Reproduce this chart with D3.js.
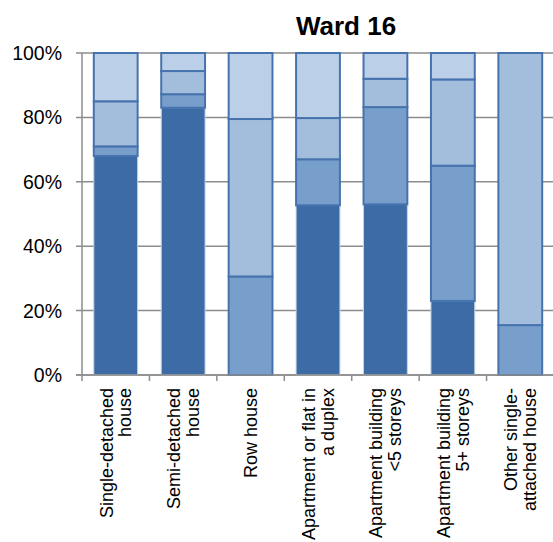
<!DOCTYPE html>
<html>
<head>
<meta charset="utf-8">
<script src="https://cdn.jsdelivr.net/npm/d3@7"></script>
<style>
  body { margin: 0; background: #fff; }
  svg { display: block; font-family: "Liberation Sans", Arial, sans-serif; }
</style>
</head>
<body>
<svg id="chart" width="553" height="542"></svg>
<script>
// chart data
var categories = [
  ["Single-detached", "house"],
  ["Semi-detached", "house"],
  ["Row house"],
  ["Apartment or flat in", "a duplex"],
  ["Apartment building", "<5 storeys"],
  ["Apartment building", "5+ storeys"],
  ["Other single-", "attached house"]
];
var series1 = [68, 83, 0, 52.7, 53, 23, 0];
var series2 = [3, 4.2, 30.6, 14.3, 30.2, 42, 15.5];
var series3 = [14, 7.2, 48.9, 12.8, 8.8, 26.8, 84.5];
var series4 = [15, 5.6, 20.5, 20.2, 8, 8.2, 0];
var yTicks = [0, 20, 40, 60, 80, 100];
var title = "Ward 16";

var fills = ["#3d6ba5", "#789fcc", "#a3bddc", "#bccfe8"];
var strokes = ["#c4d3e8", "#4673ad", "#4673ad", "#4673ad"];

var svg = d3.select("#chart");
var margin = { left: 82, right: -1, top: 53, bottom: 167 };
var W = 553, H = 542;

var x = d3.scaleBand()
  .domain(d3.range(categories.length))
  .range([margin.left, W - margin.right])
  .paddingInner(0.35)
  .paddingOuter(0.175);

var y = d3.scaleLinear()
  .domain([0, 100])
  .range([H - margin.bottom, margin.top]);

// gridlines
svg.append("g")
  .selectAll("line")
  .data(yTicks)
  .enter().append("line")
  .attr("x1", margin.left - 6)
  .attr("x2", W)
  .attr("y1", function (d) { return y(d); })
  .attr("y2", function (d) { return y(d); })
  .attr("stroke", "#8c8c8c")
  .attr("stroke-width", 1.5);

// y axis line
svg.append("line")
  .attr("x1", margin.left).attr("x2", margin.left)
  .attr("y1", y(0)).attr("y2", y(100))
  .attr("stroke", "#8c8c8c")
  .attr("stroke-width", 1.5);

// y labels
svg.append("g")
  .selectAll("text")
  .data(yTicks)
  .enter().append("text")
  .attr("x", 62)
  .attr("y", function (d) { return y(d); })
  .attr("dy", "0.36em")
  .attr("text-anchor", "end")
  .attr("font-size", 19.5)
  .attr("fill", "#000")
  .text(function (d) { return d + "%"; });

// stacked bars
var rows = categories.map(function (c, i) {
  return { i: i, s0: series1[i], s1: series2[i], s2: series3[i], s3: series4[i] };
});
var stack = d3.stack().keys(["s0", "s1", "s2", "s3"]);
var layers = stack(rows);

svg.append("g")
  .selectAll("g")
  .data(layers)
  .enter().append("g")
  .attr("fill", function (d, k) { return fills[k]; })
  .attr("stroke", function (d, k) { return strokes[k]; })
  .attr("stroke-width", function (d, k) { return k === 0 ? 1 : 2; })
  .selectAll("rect")
  .data(function (d) { return d.filter(function (p) { return p[1] - p[0] > 0; }); })
  .enter().append("rect")
  .attr("x", function (d) { return x(d.data.i); })
  .attr("width", x.bandwidth())
  .attr("y", function (d) { return y(d[1]); })
  .attr("height", function (d) { return y(d[0]) - y(d[1]); });

// x axis line and ticks
svg.append("line")
  .attr("x1", margin.left - 6).attr("x2", W)
  .attr("y1", y(0)).attr("y2", y(0))
  .attr("stroke", "#8c8c8c")
  .attr("stroke-width", 1.5);

svg.append("g")
  .selectAll("line")
  .data(d3.range(categories.length + 1))
  .enter().append("line")
  .attr("x1", function (d) { return margin.left + d * x.step(); })
  .attr("x2", function (d) { return margin.left + d * x.step(); })
  .attr("y1", y(0))
  .attr("y2", y(0) + 6)
  .attr("stroke", "#8c8c8c")
  .attr("stroke-width", 1.5);

// x labels, rotated
var lh = 18.7;
var lab = svg.append("g")
  .selectAll("text")
  .data(categories)
  .enter().append("text")
  .attr("font-size", 18)
  .attr("fill", "#000")
  .attr("text-anchor", "end")
  .attr("transform", function (d, i) {
    var cx = x(i) + x.bandwidth() / 2;
    return "translate(" + cx + "," + 388 + ") rotate(-90)";
  });

lab.selectAll("tspan")
  .data(function (d) { return d.map(function (t, j) { return { t: t, j: j, n: d.length }; }); })
  .enter().append("tspan")
  .attr("x", 0)
  .attr("y", function (d) { return (d.j - (d.n - 1) / 2) * lh + 6.3; })
  .text(function (d) { return d.t; });

// title
svg.append("text")
  .attr("x", 346)
  .attr("y", 35)
  .attr("text-anchor", "middle")
  .attr("font-size", 26)
  .attr("font-weight", "bold")
  .text(title);
</script>
</body>
</html>
